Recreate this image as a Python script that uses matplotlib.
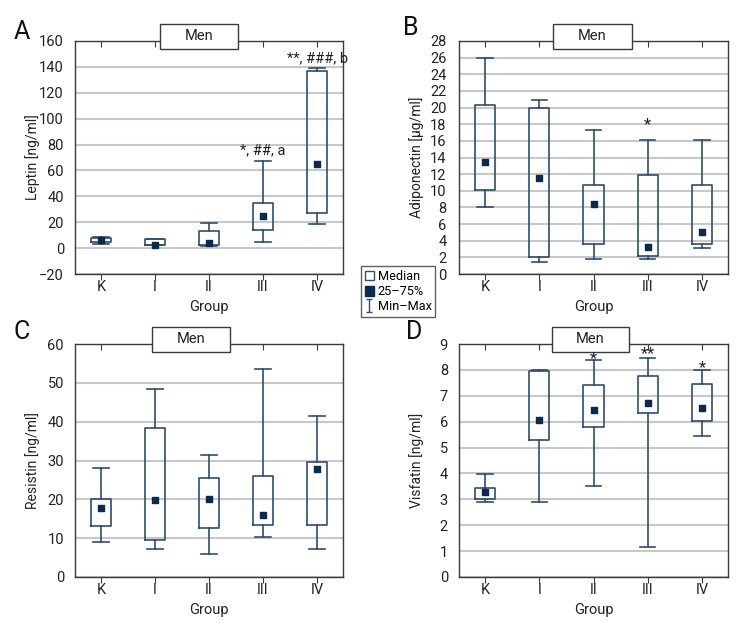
#! /usr/bin/env python3
# four box panels (leptin, adiponectin, resistin, visfatin) for men

import numpy as np
import matplotlib
matplotlib.use('Agg')
import matplotlib.pyplot as plt
import matplotlib.lines as mlines
from matplotlib.patches import Patch, Rectangle

plt.rcParams['font.family'] = ['Roboto', 'DejaVu Sans']
plt.rcParams['axes.unicode_minus'] = True

# data
#
groups = ['K', 'I', 'II', 'III', 'IV']

leptin_min = [3.1, 2.3, 1.6, 4.7, 18.7]
leptin_q1 = [4.4, 2.3, 2.3, 14.0, 26.8]
leptin_med = [6.2, 2.1, 4.2, 24.7, 65.2]
leptin_q3 = [7.8, 6.8, 13.5, 35.0, 136.6]
leptin_max = [8.3, 6.9, 19.7, 67.0, 139.0]

adipo_min = [8.1, 1.5, 1.8, 1.75, 3.1]
adipo_q1 = [10.05, 2.05, 3.65, 2.2, 3.65]
adipo_med = [13.5, 11.55, 8.4, 3.3, 5.0]
adipo_q3 = [20.3, 19.9, 10.7, 11.9, 10.75]
adipo_max = [25.9, 20.85, 17.35, 16.1, 16.1]

resistin_min = [8.9, 7.1, 6.0, 10.4, 7.3]
resistin_q1 = [13.1, 9.5, 12.6, 13.5, 13.3]
resistin_med = [17.8, 19.7, 20.1, 16.0, 27.7]
resistin_q3 = [20.0, 38.3, 25.5, 26.0, 29.6]
resistin_max = [28.0, 48.3, 31.3, 53.5, 41.5]

visfatin_min = [2.88, 2.88, 3.53, 1.14, 5.45]
visfatin_q1 = [3.01, 5.28, 5.79, 6.33, 6.03]
visfatin_med = [3.30, 6.06, 6.45, 6.72, 6.51]
visfatin_q3 = [3.42, 7.96, 7.41, 7.77, 7.44]
visfatin_max = [3.99, 8.01, 8.38, 8.45, 8.00]

# significance marks: (group index, top of text, text)
leptin_marks = [(3, 81, '*, ##, a'), (4, 152, '**, ###, b')]
adipo_marks = [(3, 18.8, '*')]
resistin_marks = []
visfatin_marks = [(2, 8.72, '*'), (3, 8.92, '**'), (4, 8.36, '*')]

BOX = '#2f4d6e'
DOT = '#0b2a4e'
GRID = '#c8c8c8'
SPINE = '#3a3a3a'
TXT = '#222222'

W, H = 756, 636


def px_axes(fig, left, top, right, bottom):
  return fig.add_axes([left / W, 1 - bottom / H, (right - left) / W, (bottom - top) / H])


def panel(ax, lo, q1, med, q3, hi, ylim, yticks, ylabel, marks, men_x, letter, letter_xy, ypad):
  stats = [
    dict(whislo=a, q1=b, med=c, q3=d, whishi=e, label=g)
    for a, b, c, d, e, g in zip(lo, q1, med, q3, hi, groups)
  ]
  pos = np.arange(1, len(groups) + 1)
  ax.bxp(
    stats, positions = pos, widths = 0.37, showfliers = False,
    boxprops = dict(color = BOX, linewidth = 1.2),
    whiskerprops = dict(color = BOX, linewidth = 1.2),
    capprops = dict(color = BOX, linewidth = 1.2),
    medianprops = dict(linewidth = 0),
    capwidths = 0.28,
    zorder = 3
  )
  ax.scatter(pos, med, marker = 's', s = 16, color = DOT, zorder = 4)

  ax.set_xlim(0.52, 5.48)
  ax.set_ylim(*ylim)
  ax.set_yticks(yticks)
  ax.set_xticks(pos)
  ax.set_xticklabels(groups)
  ax.grid(axis = 'y', color = GRID, linewidth = 1.5, zorder = 0)
  ax.set_axisbelow(True)
  for s in ax.spines.values():
    s.set_color(SPINE)
    s.set_linewidth(1.0)
  ax.tick_params(axis = 'y', length = 0, labelsize = 10.5, colors = TXT, pad = ypad)
  ax.tick_params(axis = 'x', length = 4, top = True, direction = 'out',
                 labelsize = 10.5, colors = TXT, color = SPINE, pad = 0.5)
  for t in ax.xaxis.get_major_ticks():
    t.tick2line.set_marker(mlines.TICKDOWN)
  ax.set_xlabel('Group', fontsize = 10.5, color = TXT, va = 'top')
  ax.xaxis.set_label_coords(0.5, -0.11)
  ax.set_ylabel(ylabel, fontsize = 10, color = TXT)
  ax.yaxis.set_label_coords(-0.13, 0.5)

  for i, y, s in marks:
    ax.text(pos[i], y, s, ha = 'center', va = 'top', fontsize = 10.5 if len(s) > 2 else 12,
            color = TXT, zorder = 12)

  # "Men" header box
  ax.add_patch(Rectangle(
    (men_x[0], 0.966), men_x[1] - men_x[0], 0.107,
    transform = ax.transAxes, facecolor = 'white', edgecolor = SPINE,
    linewidth = 1.0, clip_on = False, zorder = 10
  ))
  ax.text(sum(men_x) / 2, 1.02, 'Men', transform = ax.transAxes,
          ha = 'center', va = 'center', fontsize = 10.5, color = TXT, zorder = 11)
  ax.text(letter_xy[0], letter_xy[1], letter, transform = ax.transAxes, fontsize = 18,
          ha = 'left', va = 'center', color = '#111111')


fig = plt.figure(figsize = (W / 100, H / 100), dpi = 100)

ax_a = px_axes(fig, 75, 41, 343, 274)
ax_b = px_axes(fig, 459, 41, 728, 274)
ax_c = px_axes(fig, 75, 344, 343, 577)
ax_d = px_axes(fig, 459, 344, 728, 577)

panel(ax_a, leptin_min, leptin_q1, leptin_med, leptin_q3, leptin_max,
      (-20, 160), np.arange(-20, 161, 20), 'Leptin [ng/ml]', leptin_marks,
      (0.317, 0.608), 'A', (-0.228, 1.04), 8)
panel(ax_b, adipo_min, adipo_q1, adipo_med, adipo_q3, adipo_max,
      (0, 28), np.arange(0, 29, 2), 'Adiponectin [µg/ml]', adipo_marks,
      (0.349, 0.643), 'B', (-0.208, 1.055), 9)
panel(ax_c, resistin_min, resistin_q1, resistin_med, resistin_q3, resistin_max,
      (0, 60), np.arange(0, 61, 10), 'Resistin [ng/ml]', resistin_marks,
      (0.287, 0.578), 'C', (-0.228, 1.05), 8)
panel(ax_d, visfatin_min, visfatin_q1, visfatin_med, visfatin_q3, visfatin_max,
      (0, 9), np.arange(0, 10, 1), 'Visfatin [ng/ml]', visfatin_marks,
      (0.346, 0.632), 'D', (-0.197, 1.05), 8)

# legend
#
eb = ax_d.errorbar([np.nan], [np.nan], yerr = [1], fmt = 'none',
                   ecolor = BOX, capsize = 2.5, elinewidth = 1.0)
handles = [
  Patch(facecolor = 'white', edgecolor = BOX, linewidth = 1.0),
  Patch(facecolor = DOT, edgecolor = DOT),
  eb
]
fig.legend(
  handles, ['Median', '25–75%', 'Min–Max'],
  loc = 'upper left', bbox_to_anchor = (361 / W, 1 - 266 / H),
  fontsize = 9.2, frameon = True, fancybox = False, edgecolor = SPINE,
  handlelength = 0.7, handleheight = 0.8, handletextpad = 0.3,
  borderpad = 0.3, labelspacing = 0.18, borderaxespad = 0
)

plt.savefig('out.png', dpi = 100)
